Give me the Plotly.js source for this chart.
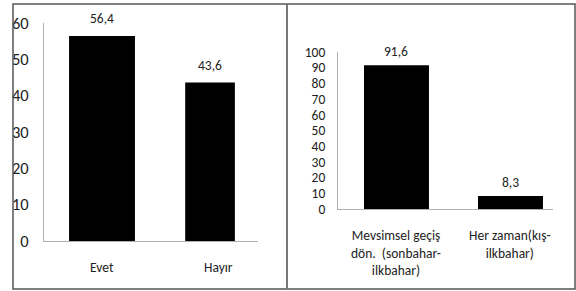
<!DOCTYPE html>
<html>
<head>
<meta charset="utf-8">
<script src="https://cdn.plot.ly/plotly-3.0.1.min.js"></script>
<style>html,body{margin:0;padding:0;background:#fff}#chart{width:576px;height:291px}</style>
</head>
<body>
<div id="chart"></div>
<script>
// Left chart data
var leftCategories = ["Evet", "Hayır"];
var leftValues = [56.4, 43.6];
// Right chart data
var rightCategories = ["Mevsimsel geçiş<br>dön.  (sonbahar-<br>ilkbahar)", "Her zaman(kış-<br>ilkbahar)"];
var rightValues = [91.6, 8.3];
var leftTicks = [0, 10, 20, 30, 40, 50, 60];
var rightTicks = [0, 10, 20, 30, 40, 50, 60, 70, 80, 90, 100];

var FONT = "Carlito, 'Liberation Sans Narrow', 'Open Sans', sans-serif";
var TXT = "#222";
function fmt(v){ return v.toFixed(1).replace('.', ','); }

var traces = [
  {type:'bar', x:leftCategories, y:leftValues, xaxis:'x', yaxis:'y',
   width:[0.61, 0.46], marker:{color:'#000'}, hoverinfo:'none'},
  {type:'bar', x:rightCategories, y:rightValues, xaxis:'x2', yaxis:'y2',
   width:0.57, marker:{color:'#000'}, hoverinfo:'none'}
];

// label horizontal nudges (style only)
var leftLabelShift = [0, 8];

var annotations = [];
leftCategories.forEach(function(c,i){
  annotations.push({x:c, y:leftValues[i], xref:'x', yref:'y', text:fmt(leftValues[i]),
    showarrow:false, yanchor:'bottom', yshift:7, font:{family:FONT, size:13.5, color:TXT}});
  annotations.push({x:c, y:0, xref:'x', yref:'y', text:c, xshift:leftLabelShift[i],
    showarrow:false, yanchor:'top', yshift:-16, align:'center', font:{family:FONT, size:13.5, color:TXT}});
});
rightCategories.forEach(function(c,i){
  annotations.push({x:c, y:rightValues[i], xref:'x2', yref:'y2', text:fmt(rightValues[i]),
    showarrow:false, yanchor:'bottom', yshift:3, font:{family:FONT, size:13.5, color:TXT}});
  annotations.push({x:c, y:0, xref:'x2', yref:'y2', text:c,
    showarrow:false, yanchor:'top', yshift:-16, align:'center', font:{family:FONT, size:13.5, color:TXT}});
});

var W = 576, H = 291;
function px(x){ return x / W; }
function py(y){ return 1 - y / H; }

var layout = {
  width: W, height: H,
  margin: {l:0, r:0, t:0, b:0},
  paper_bgcolor:'#fff', plot_bgcolor:'#fff',
  showlegend:false,
  font:{family:FONT, size:13, color:TXT},
  xaxis:{domain:[px(44), px(258)], type:'category', range:[-0.537, 1.444],
    showline:true, linecolor:'#b0b0b0', linewidth:1, showgrid:false, zeroline:false,
    ticks:'', showticklabels:false, fixedrange:true},
  yaxis:{domain:[py(241), py(23)], range:[0, 60], tickvals:leftTicks,
    showline:true, linecolor:'#b0b0b0', linewidth:1, showgrid:false, zeroline:false,
    ticks:'', ticklabelstandoff:11, tickfont:{family:FONT, size:16.5, color:TXT}, fixedrange:true},
  xaxis2:{domain:[px(338), px(553)], type:'category', range:[-0.513, 1.373], anchor:'y2',
    showline:true, linecolor:'#b0b0b0', linewidth:1, showgrid:false, zeroline:false,
    ticks:'', showticklabels:false, fixedrange:true},
  yaxis2:{domain:[py(209), py(52)], range:[0, 100], tickvals:rightTicks, anchor:'x2',
    showline:true, linecolor:'#b0b0b0', linewidth:1, showgrid:false, zeroline:false,
    ticks:'', ticklabelstandoff:9, tickfont:{family:FONT, size:13.5, color:TXT}, fixedrange:true},
  annotations: annotations,
  shapes:[
    {type:'rect', xref:'paper', yref:'paper', x0:px(13), x1:px(575), y0:py(289), y1:py(4),
     line:{color:'#555', width:1.5}},
    {type:'line', xref:'paper', yref:'paper', x0:px(287), x1:px(287), y0:py(289), y1:py(4),
     line:{color:'#777', width:2}}
  ]
};

Plotly.newPlot('chart', traces, layout, {staticPlot:true, displayModeBar:false});
</script>
</body>
</html>
